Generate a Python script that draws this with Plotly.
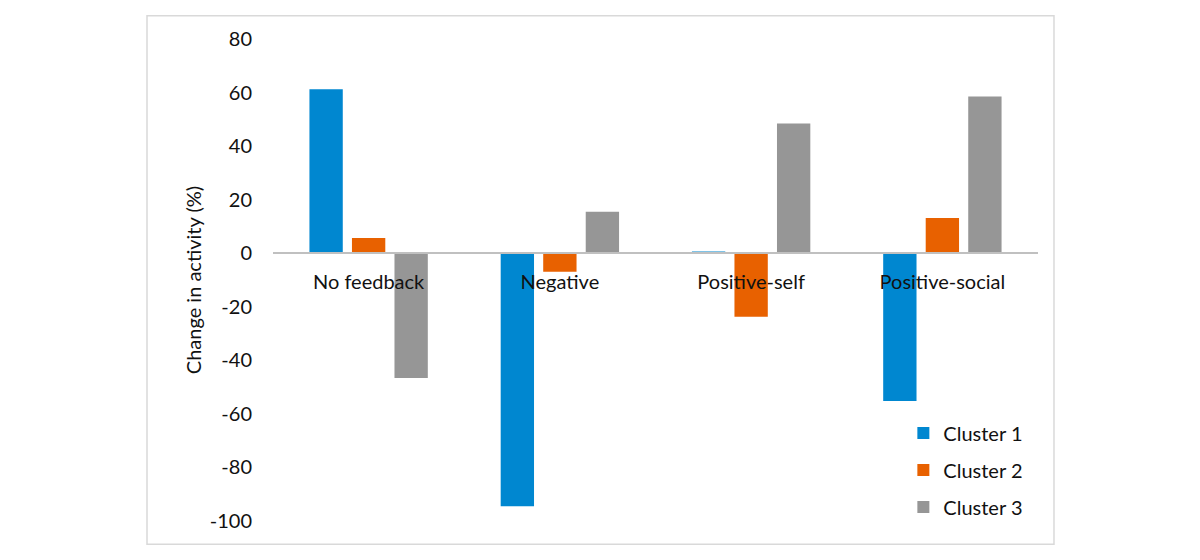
import plotly.graph_objects as go

categories = ["No feedback", "Negative", "Positive-self", "Positive-social"]
series_names = ["Cluster 1", "Cluster 2", "Cluster 3"]
cluster1 = [61.2, -94.5, 0.6, -55.2]
cluster2 = [5.7, -6.9, -23.7, 13.2]
cluster3 = [-46.6, 15.5, 48.4, 58.5]
y_ticks = [80, 60, 40, 20, 0, -20, -40, -60, -80, -100]

colors = ["#0087D0", "#E86100", "#969696"]
FONT = "Lato"
TEXT = "#111111"
SIZE = 20

fig = go.Figure()
for i, (name, vals) in enumerate(zip(series_names, [cluster1, cluster2, cluster3])):
    fig.add_trace(go.Bar(
        x=categories, y=vals, name=name,
        marker=dict(color=colors[i], line=dict(width=0)),
        legendgroup=name,
    ))

y_min, y_max = -100, 80
zero_pos = (0 - y_min) / (y_max - y_min)

fig.update_layout(
    width=1200, height=560,
    margin=dict(l=273, r=162, t=39, b=39),
    paper_bgcolor="white", plot_bgcolor="white",
    barmode="group", bargap=0.333, bargroupgap=0.216,
    font=dict(family=FONT, size=SIZE, color=TEXT),
    showlegend=True,
    legend=dict(
        x=0.824, y=0.223, xanchor="left", yanchor="top",
        traceorder="grouped", tracegroupgap=8,
        bgcolor="rgba(0,0,0,0)",
        font=dict(family=FONT, size=SIZE, color=TEXT),
    ),
    xaxis=dict(
        anchor="free", position=zero_pos,
        showline=True, linecolor="#c0c0c0", linewidth=1.5,
        ticks="", showgrid=False, zeroline=False,
        tickfont=dict(family=FONT, size=SIZE, color=TEXT),
        ticklabelstandoff=11,
    ),
    yaxis=dict(
        range=[y_min, y_max], tickvals=y_ticks,
        ticktext=[str(v) for v in y_ticks],
        showgrid=False, zeroline=False, showline=False, ticks="",
        ticklabelstandoff=20,
        tickfont=dict(family=FONT, size=SIZE, color=TEXT),
        title=dict(text="Change in activity (%)", standoff=2,
                   font=dict(family=FONT, size=SIZE, color=TEXT)),
    ),
    shapes=[dict(
        type="rect", xref="paper", yref="paper",
        x0=-0.1647, x1=1.0209, y0=-0.0484, y1=1.0484,
        line=dict(color="#d9d9d9", width=1.5), fillcolor="rgba(0,0,0,0)",
        layer="below",
    )],
)

fig.write_html("out.html")
